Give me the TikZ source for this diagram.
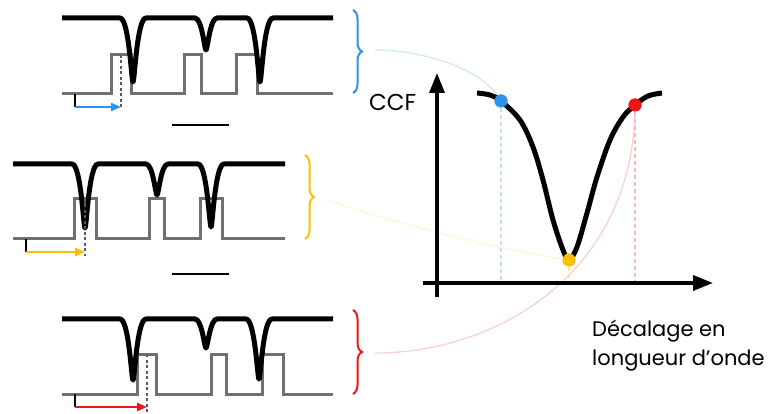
\documentclass[tikz,border=0pt]{standalone}
\usepackage{fontspec}
\setmainfont{Poppins}
\usetikzlibrary{arrows.meta,decorations.pathreplacing}
\definecolor{cblue}{HTML}{2F90EE}
\definecolor{corange}{HTML}{FFBF00}
\definecolor{cred}{HTML}{F01414}
\definecolor{maskgray}{HTML}{707070}
\definecolor{dashgray}{HTML}{5A5A5A}
\tikzset{
  spec/.style={line width=5pt, black, line join=round},
  mask/.style={line width=3pt, maskgray},
  slitdash/.style={line width=2pt, dashgray, dash pattern=on 3pt off 2.5pt},
  ticky/.style={line width=2pt, black},
  shiftarrow/.style={line width=2.2pt, -{Triangle[length=10pt,width=8pt]}},
  sepline/.style={line width=2.8pt, black},
  bracestyle/.style={decorate, decoration={brace, amplitude=9pt}, line width=2pt},
  link/.style={line width=1.3pt},
  guide/.style={line width=2.2pt, dash pattern=on 4pt off 3pt},
  axis/.style={line width=3.5pt, -{Triangle[length=20pt,width=15pt]}},
  ccf/.style={line width=5pt, line join=round},
  dot/.style={circle, inner sep=0pt, minimum size=13pt},
  lbl/.style={font=\fontsize{21}{29}\selectfont, inner sep=0pt}
}
% #1 xstart #2 xend #3 y0 #4 c1 #5 d1 #6 c2 #7 d2 #8 c3 #9 d3
\newcommand\spectrumline[9]{%
  \draw[spec] (#1,#3)
   -- ({#4-13},#3) .. controls ({#4-4},#3) and ({#4-1.5},{#3+#5}) .. (#4,{#3+#5})
      .. controls ({#4+1.5},{#3+#5}) and ({#4+4},#3) .. ({#4+13},#3)
   -- ({#6-11},#3) .. controls ({#6-4},#3) and ({#6-1.5},{#3+#7}) .. (#6,{#3+#7})
      .. controls ({#6+1.5},{#3+#7}) and ({#6+4},#3) .. ({#6+11},#3)
   -- ({#8-13},#3) .. controls ({#8-4},#3) and ({#8-1.5},{#3+#9}) .. (#8,{#3+#9})
      .. controls ({#8+1.5},{#3+#9}) and ({#8+4},#3) .. ({#8+13},#3)
   -- (#2,#3);}
\begin{document}
\begin{tikzpicture}[x=1pt,y=-1pt]
\useasboundingbox (0,0) rectangle (777,414);

% ---------- panel 1 (blue) ----------
\draw[mask] (62,94) -- (111,94) -- (111,55) -- (131,55) -- (131,94) -- (184,94) -- (184,55)
  -- (201,55) -- (201,94) -- (236,94) -- (236,55) -- (257,55) -- (257,94) -- (333,94);
\spectrumline{62}{333}{18}{133}{64}{206}{32}{260}{64}
\coordinate (t1a) at (75,94);
\coordinate (t1b) at (75,107);
\coordinate (s1top) at (121,55);
\coordinate (s1bot) at (121,108);
\draw[ticky] (t1a) -- (t1b);
\draw[shiftarrow, cblue] (t1b) -- (t1b -| s1bot);
\draw[slitdash] (s1top) -- (s1bot);
\coordinate (sep1a) at (172,125);
\coordinate (sep1b) at (229,125);
\draw[sepline] (sep1a) -- (sep1b);
\coordinate (b1top) at (353,10);
\coordinate (b1bot) at (353,93);
\draw[bracestyle, cblue] (b1top) -- (b1bot);

% ---------- panel 2 (orange) ----------
\draw[mask] (13,239) -- (74,239) -- (74,199) -- (96,199) -- (96,239) -- (149,239) -- (149,199)
  -- (164,199) -- (164,239) -- (200,239) -- (200,199) -- (222,199) -- (222,239) -- (285,239);
\spectrumline{13}{285}{164}{85}{64}{157}{31}{211}{63}
\coordinate (t2a) at (26,239);
\coordinate (t2b) at (26,252);
\coordinate (s2top) at (85,199);
\coordinate (s2bot) at (85,256);
\draw[ticky] (t2a) -- (t2b);
\draw[shiftarrow, corange] (t2b) -- (t2b -| s2bot);
\draw[slitdash] (s2top) -- (s2bot);
\coordinate (sep2a) at (172,274);
\coordinate (sep2b) at (229,274);
\draw[sepline] (sep2a) -- (sep2b);
\coordinate (b2top) at (305,155);
\coordinate (b2bot) at (305,239);
\draw[bracestyle, corange] (b2top) -- (b2bot);

% ---------- panel 3 (red) ----------
\draw[mask] (62,394) -- (137,394) -- (137,354) -- (156,354) -- (156,394) -- (211,394) -- (211,354)
  -- (226,354) -- (226,394) -- (262,394) -- (262,354) -- (283,354) -- (283,394) -- (333,394);
\spectrumline{62}{333}{319}{133}{61}{206}{29}{259}{60}
\coordinate (t3a) at (75,394);
\coordinate (t3b) at (75,407);
\coordinate (s3top) at (147,354);
\coordinate (s3bot) at (147,412);
\draw[ticky] (t3a) -- (t3b);
\draw[shiftarrow, cred] (t3b) -- (t3b -| s3bot);
\draw[slitdash] (s3top) -- (s3bot);
\coordinate (b3top) at (353,310);
\coordinate (b3bot) at (353,394);
\draw[bracestyle, cred] (b3top) -- (b3bot);

% ---------- CCF graph ----------
\coordinate (o) at (437,283);
\coordinate (ybot) at (437,297);
\coordinate (ytop) at (437,73);
\coordinate (xl) at (423,283);
\coordinate (xr) at (713,283);

\node[dot, fill=cblue] (db) at (501,101) {};
\node[dot, fill=corange] (do) at (569,260) {};
\node[dot, fill=cred] (dr) at (635,105) {};

\coordinate (lb) at (375,50);
\coordinate (lo) at (327,200);
\coordinate (lr) at (375,353);

\draw[link, cblue!22] (lb) .. controls (425,50) and (485,70) .. (db.center);
\draw[link, corange!15] (lo) .. controls (400,224) and (490,248) .. (do.center);
\draw[link, cred!20] (lr) .. controls (500,353) and (635,270) .. (dr.center);
\draw[guide, cblue!30] (db.center) -- (db.center |- o);
\draw[guide, corange!40] (do.center) -- (do.center |- o);
\draw[guide, cred!30] (dr.center) -- (dr.center |- o);

\draw[axis] (ybot) -- (ytop);
\draw[axis] (xl) -- (xr);

\draw[ccf] plot[smooth, tension=0.55] coordinates {(477,93) (490,95) (501,101) (520,120) (533,147)
  (543,180) (553,220) (563,250) (569,260) (577,247) (587,213) (597,177) (610,140) (623,117)
  (635,105) (648,96) (662,93)};

\node[dot, fill=cblue] at (db) {};
\node[dot, fill=corange] at (do) {};
\node[dot, fill=cred] at (dr) {};

\node[lbl, font=\fontsize{23}{29}\selectfont, anchor=base west] (ccflabel) at (369,111) {CCF};
\node[lbl, anchor=base west] (xlabel1) at (592,336) {Décalage en};
\node[lbl, anchor=base west] (xlabel2) at (592,365) {longueur d’onde};
\end{tikzpicture}
\end{document}
